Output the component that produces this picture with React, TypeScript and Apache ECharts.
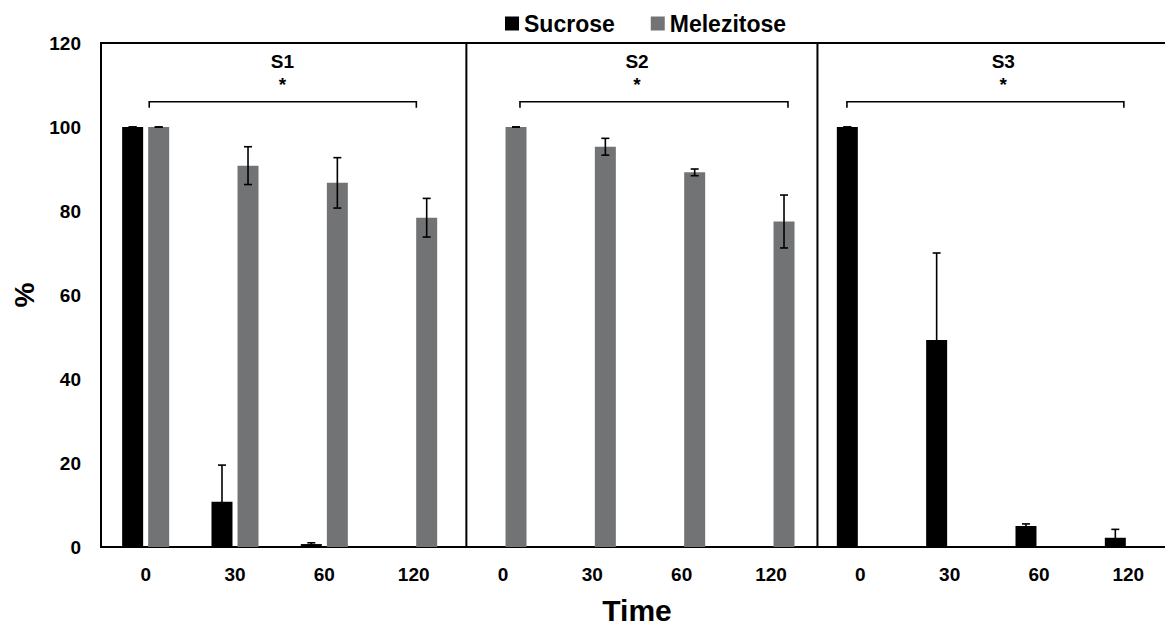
import React, { useEffect, useRef } from "react";
import * as echarts from "echarts";

const timeLabels = ["0", "30", "60", "120", "0", "30", "60", "120", "0", "30", "60", "120"];
const sucrose = [100, 10.8, 0.7, 0, 0, 0, 0, 0, 100, 49.3, 5.0, 2.2];
const sucroseErr = [0, 8.7, 0.3, 0, 0, 0, 0, 0, 0, 20.7, 0.5, 2.0];
const melezitose = [100, 90.8, 86.7, 78.4, 100, 95.3, 89.2, 77.5, 0, 0, 0, 0];
const melezitoseErr = [0, 4.5, 6.0, 4.6, 0, 2.0, 0.8, 6.3, 0, 0, 0, 0];

const panelNames = ["S1", "S2", "S3"];
const panelCenters = [2.03, 6.0, 10.1];
const bracketStart = [0.54, 4.69, 8.35];
const bracketEnd = [3.53, 7.69, 11.45];
const bracketLevel = 106;
const bracketEndLevel = 104.6;
const panelNameLevel = 115.6;
const starLevel = 110.2;
const panelDividers = [4.09, 8.02];

const FONT = "'Liberation Sans', Arial, sans-serif";
const GRAY = "#717375";
const BAR_W = 0.235;
const BAR_GAP = 0.24;

function errorRender(sign: number) {
  return (params: any, api: any) => {
    const idx = api.value(0);
    const v = api.value(1);
    const e = api.value(2);
    if (!(v > 0)) return null;
    const band = api.size([1, 0])[0];
    const off = (sign * band * (BAR_W + BAR_W * BAR_GAP)) / 2;
    const top = api.coord([idx, v + e]);
    const bot = api.coord([idx, v - e]);
    const x = top[0] + off;
    const cap = 4;
    const style = { stroke: "#000", lineWidth: 1.6 };
    return {
      type: "group",
      children: [
        { type: "line", shape: { x1: x, y1: top[1], x2: x, y2: bot[1] }, style },
        { type: "line", shape: { x1: x - cap, y1: top[1], x2: x + cap, y2: top[1] }, style },
        { type: "line", shape: { x1: x - cap, y1: bot[1], x2: x + cap, y2: bot[1] }, style },
      ],
    };
  };
}

export default function App() {
  const ref = useRef<HTMLDivElement>(null);
  useEffect(() => {
    document.body.style.margin = "0";
    document.body.style.overflow = "hidden";
    const chart = echarts.init(ref.current!, null, { renderer: "svg" });
    const option: any = {
      animation: false,
      backgroundColor: "#fff",
      textStyle: { fontFamily: FONT },
      legend: {
        data: ["Sucrose", "Melezitose"],
        left: 500,
        top: 7,
        icon: "rect",
        itemWidth: 14,
        itemHeight: 14,
        itemGap: 36,
        textStyle: { fontSize: 23, fontWeight: "bold", color: "#000", fontFamily: FONT },
      },
      grid: {
        left: 101,
        width: 1072,
        top: 43,
        bottom: 79,
        show: true,
        borderColor: "#000",
        borderWidth: 2,
        containLabel: false,
        outerBoundsMode: "none",
      },
      xAxis: [
        {
          type: "category",
          data: timeLabels,
          axisTick: { show: false },
          axisLine: { lineStyle: { color: "#000", width: 2 } },
          axisLabel: { fontSize: 19, fontWeight: "bold", color: "#000", margin: 18, fontFamily: FONT, interval: 0 },
          name: "Time",
          nameLocation: "middle",
          nameGap: 48,
          nameTextStyle: { fontSize: 30, fontWeight: "bold", color: "#000", fontFamily: FONT },
        },
        { type: "value", min: 0, max: 12, show: false },
      ],
      yAxis: {
        type: "value",
        min: 0,
        max: 120,
        interval: 20,
        splitLine: { show: false },
        axisTick: { show: false },
        axisLine: { show: true, lineStyle: { color: "#000", width: 2 } },
        axisLabel: { fontSize: 19, fontWeight: "bold", color: "#000", margin: 20, fontFamily: FONT },
        name: "%",
        nameLocation: "middle",
        nameRotate: 90,
        nameGap: 62,
        nameTextStyle: { fontSize: 28, fontWeight: "bold", color: "#000", fontFamily: FONT },
      },
      series: [
        {
          name: "Sucrose",
          type: "bar",
          data: sucrose,
          barWidth: BAR_W * 100 + "%",
          barGap: BAR_GAP * 100 + "%",
          itemStyle: { color: "#000" },
        },
        {
          name: "Melezitose",
          type: "bar",
          data: melezitose,
          barWidth: BAR_W * 100 + "%",
          itemStyle: { color: GRAY },
        },
        {
          type: "custom",
          name: "sucErr",
          xAxisIndex: 0,
          z: 5,
          renderItem: errorRender(-1),
          encode: { x: 0, y: 1 },
          data: sucrose.map((v, i) => [i, v, sucroseErr[i]]),
        },
        {
          type: "custom",
          name: "melErr",
          xAxisIndex: 0,
          z: 5,
          renderItem: errorRender(1),
          encode: { x: 0, y: 1 },
          data: melezitose.map((v, i) => [i, v, melezitoseErr[i]]),
        },
        {
          type: "custom",
          name: "dividers",
          xAxisIndex: 1,
          z: 6,
          clip: false,
          renderItem: (params: any, api: any) => {
            const a = api.coord([api.value(0), 0]);
            const b = api.coord([api.value(0), 120]);
            return {
              type: "line",
              shape: { x1: a[0], y1: a[1], x2: b[0], y2: b[1] },
              style: { stroke: "#000", lineWidth: 2 },
            };
          },
          encode: { x: 0 },
          data: panelDividers.map((d) => [d]),
        },
        {
          type: "custom",
          name: "brackets",
          xAxisIndex: 1,
          z: 6,
          clip: false,
          renderItem: (params: any, api: any) => {
            const i = params.dataIndex;
            const p0 = api.coord([bracketStart[i], bracketEndLevel]);
            const p1 = api.coord([bracketStart[i], bracketLevel]);
            const p2 = api.coord([bracketEnd[i], bracketLevel]);
            const p3 = api.coord([bracketEnd[i], bracketEndLevel]);
            const n = api.coord([panelCenters[i], panelNameLevel]);
            const s = api.coord([panelCenters[i], starLevel]);
            return {
              type: "group",
              children: [
                {
                  type: "polyline",
                  shape: { points: [p0, p1, p2, p3] },
                  style: { stroke: "#000", lineWidth: 1.6, fill: "none" },
                },
                {
                  type: "text",
                  x: n[0],
                  y: n[1],
                  style: {
                    text: panelNames[i],
                    fill: "#000",
                    fontSize: 19,
                    fontWeight: "bold",
                    fontFamily: FONT,
                    align: "center",
                    verticalAlign: "middle",
                  },
                },
                {
                  type: "text",
                  x: s[0],
                  y: s[1],
                  style: {
                    text: "*",
                    fill: "#000",
                    fontSize: 19,
                    fontWeight: "bold",
                    fontFamily: FONT,
                    align: "center",
                    verticalAlign: "middle",
                  },
                },
              ],
            };
          },
          encode: { x: 0 },
          data: panelCenters.map((c) => [c]),
        },
      ],
    };
    chart.setOption(option);
    return () => chart.dispose();
  }, []);
  return (
    <div style={{ width: 1165, height: 626, overflow: "hidden", position: "relative" }}>
      <div ref={ref} style={{ width: 1165, height: 626 }} />
    </div>
  );
}
